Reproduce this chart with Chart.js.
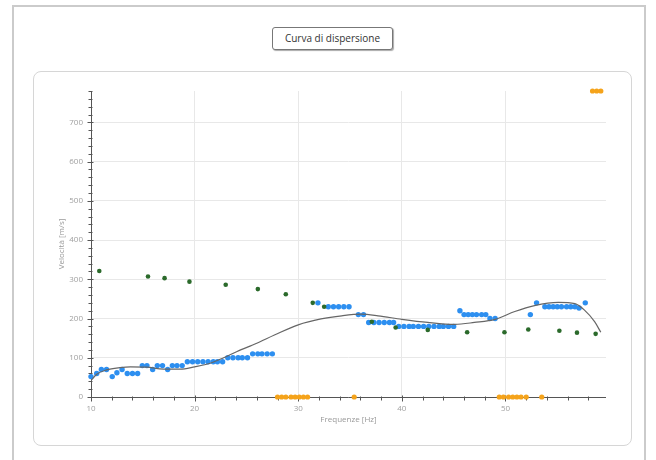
<!DOCTYPE html>
<html>
<head>
<meta charset="utf-8">
<script src="https://cdn.jsdelivr.net/npm/chart.js@4"></script>
<style>
  body { margin: 0; width: 656px; height: 460px; overflow: hidden; background: #fff; position: relative; font-family: "Open Sans", sans-serif; }
  #frame { position: absolute; left: 12px; top: 5px; width: 634px; height: 470px; border: 2px solid #cbcbcb; box-sizing: border-box; }
  #panel { position: absolute; left: 33px; top: 71px; width: 599px; height: 375px; border: 1px solid #d6d6d6; border-radius: 8px; box-sizing: border-box; }
  #title { position: absolute; left: 272px; top: 27px; width: 121px; height: 23px; border: 1.5px solid #777; border-radius: 3px; box-shadow: 1px 1px 1px #aaa; box-sizing: border-box; font-size: 10px; color: #333; text-align: center; line-height: 20px; background: #fff; }
  canvas { position: absolute; left: 0; top: 0; }
</style>
</head>
<body>
<div id="frame"></div>
<div id="panel"></div>
<div id="title">Curva di dispersione</div>
<canvas id="myChart" width="656" height="460"></canvas>
<script>
// Measured points (frequency in Hz, velocity in m/s)
const blueFreq = [10.0, 10.55, 11.0, 11.5, 12.05, 12.5, 13.0, 13.5, 14.0, 14.5, 14.95, 15.4, 15.95, 16.4, 16.9, 17.4, 17.85, 18.3, 18.8,
  19.3, 19.8, 20.3, 20.8, 21.3, 21.8, 22.2, 22.7, 23.2, 23.7, 24.2, 24.6, 25.1, 25.6, 26.1, 26.5, 27.0, 27.5,
  31.9, 32.9, 33.4, 33.9, 34.4, 34.9, 35.8, 36.3, 36.8, 37.3, 37.8, 38.3, 38.8, 39.2,
  39.7, 40.2, 40.7, 41.1, 41.6, 42.1, 42.6, 43.1, 43.6, 44.0, 44.5, 45.0,
  45.6, 46.0, 46.4, 46.8, 47.2, 47.7, 48.1, 48.5, 49.0,
  52.4, 53.0, 53.8, 54.2, 54.6, 55.0, 55.4, 55.9, 56.3, 56.7, 57.1, 57.7];
const blueVel = [52, 60, 70, 70, 52, 62, 70, 60, 60, 60, 80, 80, 70, 80, 80, 70, 80, 80, 80,
  90, 90, 90, 90, 90, 90, 90, 90, 100, 100, 100, 100, 100, 110, 110, 110, 110, 110,
  240, 230, 230, 230, 230, 230, 210, 210, 190, 190, 190, 190, 190, 190,
  180, 180, 180, 180, 180, 180, 180, 180, 180, 180, 180, 180,
  220, 210, 210, 210, 210, 210, 210, 200, 200,
  210, 240, 230, 230, 230, 230, 230, 230, 230, 230, 227, 240];

const greenFreq = [10.8, 15.5, 17.1, 19.5, 23.0, 26.1, 28.8, 31.4, 32.5, 37.1, 39.4, 42.5, 46.3, 49.9, 52.2, 55.2, 56.9, 58.7];
const greenVel = [321, 307, 303, 294, 286, 275, 262, 240, 230, 192, 177, 171, 165, 165, 172, 169, 164, 161];

const orangeFreq = [28.0, 28.4, 28.8, 29.3, 29.7, 30.1, 30.5, 30.9, 35.4, 49.4, 49.8, 50.3, 50.7, 51.1, 51.5, 52.0, 53.5, 58.4, 58.8, 59.2];
const orangeVel = [0, 0, 0, 0, 0, 0, 0, 0, 0, 0, 0, 0, 0, 0, 0, 0, 0, 780, 780, 780];

// Fitted dispersion curve
const curveFreq = [10.0, 10.55, 11.5, 12.8, 13.8, 15.4, 17.0, 18.6, 20.0, 21.5, 22.8, 24.1, 26.0, 27.7, 30.0, 32.2, 34.2, 36.1, 37.7,
  40.0, 42.5, 45.1, 47.0, 49.0, 50.9, 52.8, 55.1, 56.7, 57.6, 58.6, 59.2];
const curveVel = [42, 58, 69, 75, 77, 76, 71, 71, 77, 86, 100, 116, 137, 158, 184, 199, 207, 211, 207,
  198, 190, 185, 190, 198, 218, 233, 241, 238, 222, 192, 165];

function toPoints(xs, ys) {
    return xs.map((x, i) => ({ x: x, y: ys[i] }));
}

// Axis lines with crossing tick marks
const axisTicks = {
    id: 'axisTicks',
    beforeDatasetsDraw(chart) {
        const { ctx, chartArea: a, scales: { x, y } } = chart;
        ctx.save();
        ctx.strokeStyle = '#555';
        ctx.lineWidth = 1;
        ctx.beginPath();
        const bottom = Math.round(a.bottom) + 0.5;
        const left = Math.round(a.left) + 0.5;
        ctx.moveTo(left, bottom);
        ctx.lineTo(a.right, bottom);
        ctx.moveTo(left, a.top);
        ctx.lineTo(left, bottom);
        for (let v = 10; v <= x.max; v += 2) {
            const px = Math.round(x.getPixelForValue(v)) + 0.5;
            const major = v % 10 === 0;
            ctx.moveTo(px, bottom - (major ? 2 : 1));
            ctx.lineTo(px, bottom + (major ? 4 : 3));
        }
        for (let v = 0; v <= y.max; v += 20) {
            const py = Math.round(y.getPixelForValue(v)) + 0.5;
            const major = v % 100 === 0;
            ctx.moveTo(left - (major ? 4 : 3), py);
            ctx.lineTo(left + (major ? 2 : 1), py);
        }
        ctx.stroke();
        ctx.restore();
    }
};

const tickFont = { family: 'Open Sans', size: 8 };

new Chart(document.getElementById('myChart'), {
    type: 'scatter',
    data: {
        datasets: [
            {
                type: 'line',
                data: toPoints(curveFreq, curveVel),
                borderColor: '#666',
                borderWidth: 1.2,
                pointRadius: 0,
                tension: 0.4,
                cubicInterpolationMode: 'monotone',
                fill: false
            },
            {
                data: toPoints(orangeFreq, orangeVel),
                backgroundColor: '#f5a31a',
                borderWidth: 0,
                pointRadius: 2.6,
                clip: false
            },
            {
                data: toPoints(greenFreq, greenVel),
                backgroundColor: '#2b6a2b',
                borderWidth: 0,
                pointRadius: 2.3
            },
            {
                data: toPoints(blueFreq, blueVel),
                backgroundColor: '#2d8ff0',
                borderWidth: 0,
                pointRadius: 2.7,
                clip: false
            }
        ]
    },
    options: {
        responsive: false,
        animation: false,
        devicePixelRatio: 1,
        layout: { padding: { left: 50, right: 50, top: 91, bottom: 30 } },
        plugins: { legend: { display: false }, tooltip: { enabled: false } },
        scales: {
            x: {
                type: 'linear',
                min: 10,
                max: 59.7,
                afterFit: scale => { scale.height = 33; },
                border: { display: false },
                grid: {
                    drawTicks: false,
                    color: c => (c.tick && c.tick.value % 10 === 0 && c.tick.value > 10) ? '#e8e8e8' : 'transparent'
                },
                ticks: {
                    stepSize: 2,
                    autoSkip: false,
                    maxRotation: 0,
                    padding: 7,
                    color: '#a0a0a0',
                    font: tickFont,
                    callback: v => (v % 10 === 0 ? v : '')
                },
                title: {
                    display: true,
                    text: 'Frequenze [Hz]',
                    color: '#999',
                    font: tickFont,
                    padding: { top: 0, bottom: 5 }
                }
            },
            y: {
                min: 0,
                max: 780,
                afterFit: scale => { scale.width = 41; },
                border: { display: false },
                grid: {
                    drawTicks: false,
                    color: c => (c.tick && c.tick.value % 100 === 0 && c.tick.value > 0) ? '#e8e8e8' : 'transparent'
                },
                ticks: {
                    stepSize: 20,
                    autoSkip: false,
                    padding: 8,
                    color: '#a0a0a0',
                    font: tickFont,
                    callback: v => (v % 100 === 0 ? v : '')
                },
                title: {
                    display: true,
                    text: 'Velocità [m/s]',
                    color: '#999',
                    font: tickFont,
                    padding: { top: 7, bottom: 0 }
                }
            }
        }
    },
    plugins: [axisTicks]
});
</script>
</body>
</html>
